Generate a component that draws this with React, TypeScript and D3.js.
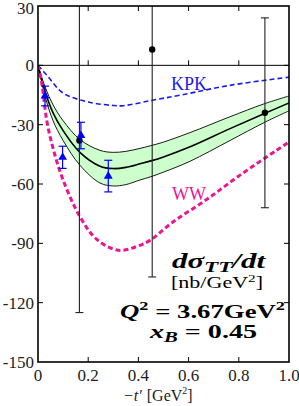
import * as d3 from "d3"

// -t' grid and curves
const kpkX = [0, 0.035, 0.1, 0.2, 0.3, 0.34, 0.45, 0.57, 0.77, 1.0]
const kpkY = [0, -5, -14, -18.5, -20.3, -20.4, -17.8, -15, -10, -6]

const wwX = [0, 0.015, 0.035, 0.06, 0.1, 0.167, 0.234, 0.32, 0.406, 0.446, 0.54, 0.67, 0.805, 0.95, 1.0]
const wwY = [0, -9, -28, -42, -58, -76.5, -88, -93.5, -91, -88.5, -79, -68, -55.5, -43, -38.7]

const bandX = [0, 0.03, 0.06, 0.1, 0.167, 0.247, 0.3, 0.35, 0.406, 0.45, 0.5, 0.606, 0.765, 0.9, 1.0]
const centerY = [0, -14, -24, -33, -44, -51, -52.2, -51.6, -49.8, -48.3, -46.3, -41.2, -32, -24.5, -19]
const upperY = [0, -11.5, -20, -28, -37.5, -43, -44, -43.5, -42, -40.6, -38.8, -34, -26, -19.5, -15.5]
const lowerY = [0, -16.5, -28, -38, -50.5, -59.5, -61, -60.3, -58, -56.3, -54, -48.5, -38, -29, -23]

// data points
const triX = [0.028, 0.098, 0.171, 0.28]
const triY = [-15.5, -46.5, -35.5, -56]
const triErr = [5, 5.6, 6.7, 8]

const dotX = [0.165, 0.455, 0.904]
const dotY = [-38, 8, -24]
const dotErr = [87, 115, 48]

const xTicks = [0, 0.2, 0.4, 0.6, 0.8, 1.0]
const yTicks = [30, 0, -30, -60, -90, -120, -150]

const W = 299
const H = 406

export default function App() {
  const x = d3.scaleLinear().domain([0, 1]).range([38, 289])
  const y = d3.scaleLinear().domain([-150, 30]).range([362, 6])

  const curve = d3.curveCatmullRom.alpha(0.5)

  const line = (xs: number[], ys: number[]) =>
    d3
      .line<number>()
      .x((_, i) => x(xs[i]))
      .y((d) => y(d))
      .curve(curve)(ys) || ""

  const area =
    d3
      .area<number>()
      .x((_, i) => x(bandX[i]))
      .y0((_, i) => y(lowerY[i]))
      .y1((d) => y(d))
      .curve(curve)(upperY) || ""

  const tri = d3.symbol(d3.symbolTriangle, 34)() || ""
  const tk = 5
  const serif = "'Liberation Serif', 'DejaVu Serif', serif"

  return (
    <svg
      width={W}
      height={H}
      style={{ position: "absolute", left: 0, top: 0, background: "#fff" }}
      fontFamily={serif}
    >
      <defs>
        <clipPath id="plot">
          <rect x={x(0)} y={y(30)} width={x(1) - x(0)} height={y(-150) - y(30)} />
        </clipPath>
      </defs>

      <g clipPath="url(#plot)">
        <path d={area} fill="#ccffcc" stroke="none" />
        <path d={line(bandX, upperY)} fill="none" stroke="#000" strokeWidth={0.9} />
        <path d={line(bandX, lowerY)} fill="none" stroke="#000" strokeWidth={0.9} />
        <path d={line(bandX, centerY)} fill="none" stroke="#000" strokeWidth={1.6} />
        <path d={line(kpkX, kpkY)} fill="none" stroke="#1a1aee" strokeWidth={1.6} strokeDasharray="5,3" />
        <path d={line(wwX, wwY)} fill="none" stroke="#ee1490" strokeWidth={3} strokeDasharray="5,3" />

        {/* zero line */}
        <line x1={x(0)} x2={x(1)} y1={y(0)} y2={y(0)} stroke="#000" strokeWidth={1} />

        {/* black points with big errors */}
        {dotX.map((dx, i) => (
          <g key={"d" + i} stroke="#222" strokeWidth={1.1}>
            <line x1={x(dx)} x2={x(dx)} y1={y(dotY[i] + dotErr[i])} y2={y(dotY[i] - dotErr[i])} />
            <line x1={x(dx) - 4} x2={x(dx) + 4} y1={y(dotY[i] + dotErr[i])} y2={y(dotY[i] + dotErr[i])} />
            <line x1={x(dx) - 4} x2={x(dx) + 4} y1={y(dotY[i] - dotErr[i])} y2={y(dotY[i] - dotErr[i])} />
            <circle cx={x(dx)} cy={y(dotY[i])} r={3.2} fill="#000" stroke="none" />
          </g>
        ))}

        {/* blue triangles */}
        {triX.map((tx, i) => (
          <g key={"t" + i} stroke="#0000ff" strokeWidth={1.2}>
            <line x1={x(tx)} x2={x(tx)} y1={y(triY[i] + triErr[i])} y2={y(triY[i] - triErr[i])} />
            <line x1={x(tx) - 4} x2={x(tx) + 4} y1={y(triY[i] + triErr[i])} y2={y(triY[i] + triErr[i])} />
            <line x1={x(tx) - 4} x2={x(tx) + 4} y1={y(triY[i] - triErr[i])} y2={y(triY[i] - triErr[i])} />
            <path d={tri} transform={`translate(${x(tx)},${y(triY[i])})`} fill="#0000ff" stroke="none" />
          </g>
        ))}
      </g>

      {/* ticks */}
      {xTicks.slice(1, -1).map((t) => (
        <g key={"xt" + t} stroke="#000" strokeWidth={1}>
          <line x1={x(t)} x2={x(t)} y1={y(-150)} y2={y(-150) - tk} />
          <line x1={x(t)} x2={x(t)} y1={y(30)} y2={y(30) + tk} />
          <line x1={x(t)} x2={x(t)} y1={y(0)} y2={y(0) - tk} />
        </g>
      ))}
      {yTicks.slice(1, -1).map((t) => (
        <g key={"yt" + t} stroke="#000" strokeWidth={1}>
          <line x1={x(0)} x2={x(0) + tk} y1={y(t)} y2={y(t)} />
          <line x1={x(1)} x2={x(1) - tk} y1={y(t)} y2={y(t)} />
        </g>
      ))}

      {/* frame */}
      <rect
        x={x(0)}
        y={y(30)}
        width={x(1) - x(0)}
        height={y(-150) - y(30)}
        fill="none"
        stroke="#000"
        strokeWidth={1.6}
      />

      {/* tick labels */}
      {yTicks.map((t) => (
        <text key={"yl" + t} x={34} y={Math.max(y(t) + 6, 14)} textAnchor="end" fontSize={17} fill="#222">
          {t < 0 ? "-" + Math.abs(t) : String(t)}
        </text>
      ))}
      {xTicks.map((t) => (
        <text key={"xl" + t} x={x(t)} y={381} textAnchor="middle" fontSize={17} fill="#222">
          {t === 0 ? "0" : t.toFixed(1)}
        </text>
      ))}

      {/* x axis title */}
      <text x={123} y={401} fontSize={16} fill="#222">
        <tspan fontStyle="italic">−t′</tspan>
        <tspan dx={5}>[GeV</tspan>
        <tspan fontSize={10} dy={-7}>2</tspan>
        <tspan dy={7}>]</tspan>
      </text>

      {/* curve labels */}
      <text x={171} y={90} fontSize={19} fill="#1a1aee" textLength={36} lengthAdjust="spacingAndGlyphs">
        KPK
      </text>
      <text x={172} y={200} fontSize={19} fill="#ee1490" textLength={34} lengthAdjust="spacingAndGlyphs">
        WW
      </text>

      {/* annotation */}
      <text x={172} y={268} fontSize={20} fontWeight="bold" fill="#000" textLength={93} lengthAdjust="spacingAndGlyphs">
        <tspan fontStyle="italic">dσ</tspan>
        <tspan fontStyle="italic" fontSize={15} dy={4}>TT</tspan>
        <tspan fontStyle="italic" dy={-4}>/dt</tspan>
      </text>
      <text x={171} y={288} fontSize={16} fill="#000" textLength={92} lengthAdjust="spacingAndGlyphs">
        <tspan>[nb/GeV</tspan>
        <tspan fontSize={11} dy={-6}>2</tspan>
        <tspan dy={6}>]</tspan>
      </text>
      <text x={120} y={318} fontSize={19} fontWeight="bold" fill="#000" textLength={165} lengthAdjust="spacingAndGlyphs">
        <tspan fontStyle="italic">Q</tspan>
        <tspan fontSize={13} dy={-8}>2</tspan>
        <tspan dy={8}> = 3.67GeV</tspan>
        <tspan fontSize={13} dy={-8}>2</tspan>
      </text>
      <text x={150} y={338} fontSize={19} fontWeight="bold" fill="#000" textLength={107} lengthAdjust="spacingAndGlyphs">
        <tspan fontStyle="italic">x</tspan>
        <tspan fontStyle="italic" fontSize={14} dy={4}>B</tspan>
        <tspan dy={-4}> = 0.45</tspan>
      </text>
    </svg>
  )
}
